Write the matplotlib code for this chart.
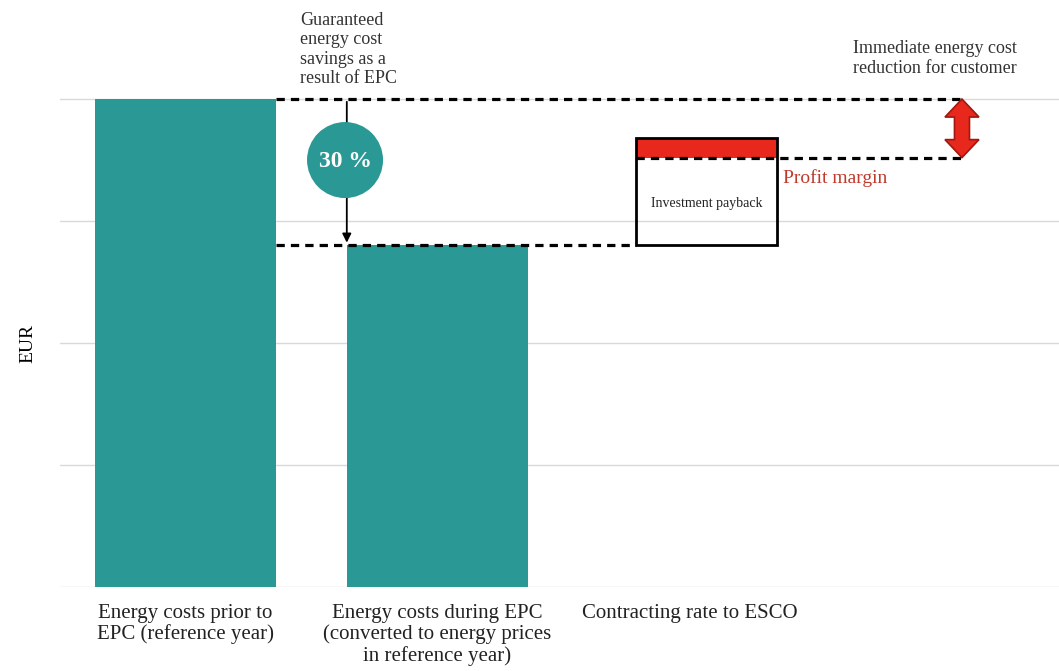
import matplotlib
matplotlib.use("Agg")
import matplotlib.pyplot as plt
from matplotlib.patches import Rectangle, Polygon
import numpy as np

categories = ["Energy costs prior to\nEPC (reference year)",
              "Energy costs during EPC\n(converted to energy prices\nin reference year)",
              "Contracting rate to ESCO"]
bar_values = [100, 70]
rate_base = 70        # bottom of contracting rate box
rate_payback_top = 88  # investment payback top
rate_total = 92       # with profit margin
savings_pct = "30 %"
yticks = [0, 25, 50, 75, 100]

teal = "#2a9894"
red = "#e8281c"
plt.rcParams['font.family'] = ['Liberation Serif', 'DejaVu Serif']

fig = plt.figure(figsize=(10.59, 6.71), dpi=100)
ax = fig.add_axes([60/1059, (671-587)/671, (1059-60)/1059, 587/671])
ax.set_xlim(-0.498, 3.466)
ax.set_ylim(0, 120.3)
PX_X = 1 / 252.0   # data units per pixel in x
PX_Y = 1 / 4.88    # data units per pixel in y

for y in yticks:
    ax.axhline(y, color="#d9d9d9", lw=1, zorder=0)

x = np.arange(len(categories))
ax.bar(x[:2], bar_values, width=0.72, color=teal, zorder=2)

# contracting rate box
bx = 2.067
bw = 0.56
ax.add_patch(Rectangle((bx - bw/2, rate_payback_top), bw, rate_total - rate_payback_top,
                       facecolor=red, edgecolor="none", zorder=3))
ax.add_patch(Rectangle((bx - bw/2, rate_base), bw, rate_total - rate_base,
                       facecolor="none", edgecolor="black", lw=2, zorder=4))
ax.text(bx, 78.6, "Investment payback", ha="center", va="center",
        fontsize=10, color="#222222", zorder=5)

# dashed lines
xr = 3.081
dash = (0, (2.6, 1.9))
ax.plot([0.36, xr], [bar_values[0]] * 2, ls=dash, color="black", lw=2.3, zorder=3)
ax.plot([0.36, bx - bw/2], [bar_values[1]] * 2, ls=dash, color="black", lw=2.3, zorder=3)
ax.plot([bx - bw/2, xr], [rate_payback_top] * 2, ls=dash, color="black", lw=2.3, zorder=5)

# vertical savings arrow
ax.annotate("", xy=(0.64, bar_values[1]), xytext=(0.64, bar_values[0]),
            arrowprops=dict(arrowstyle="-|>", color="black", lw=1.3, mutation_scale=13), zorder=3)
ax.scatter([0.633], [87.5], s=(76 * 0.72) ** 2, color=teal, edgecolors="none", zorder=6)
ax.text(0.633, 87.3, savings_pct, ha="center", va="center", color="white", fontsize=17,
        fontweight="bold", zorder=7)

# red double arrow (polygon)
top, bot = bar_values[0], rate_payback_top
hw, sw, hl = 17 * PX_X, 7.5 * PX_X, 18 * PX_Y
pts = [(xr, top), (xr + hw, top - hl), (xr + sw, top - hl), (xr + sw, bot + hl),
       (xr + hw, bot + hl), (xr, bot), (xr - hw, bot + hl), (xr - sw, bot + hl),
       (xr - sw, top - hl), (xr - hw, top - hl)]
ax.add_patch(Polygon(pts, closed=True, facecolor=red, edgecolor="#a01810", lw=1.2, zorder=6))

# annotations
ax.text(0.455, 117.8, "Guaranteed\nenergy cost\nsavings as a\nresult of EPC", ha="left", va="top",
        fontsize=13, color="#333333", linespacing=1.17)
ax.text(2.65, 112.0, "Immediate energy cost\nreduction for customer", ha="left", va="top",
        fontsize=13, color="#333333", linespacing=1.17)
ax.text(2.37, 83.8, "Profit margin", ha="left", va="center", fontsize=14, color="#c0392b")

ax.set_xticks(x)
ax.set_xticklabels(categories, fontsize=15, color="#222222", linespacing=1.12)
ax.tick_params(axis="x", length=0, pad=12)
ax.set_yticks([])
ax.set_ylabel("EUR", fontsize=14)
ax.yaxis.set_label_coords(-0.024, 50 / 120.3)
for s in ax.spines.values():
    s.set_visible(False)

fig.savefig("out.png", dpi=100)
